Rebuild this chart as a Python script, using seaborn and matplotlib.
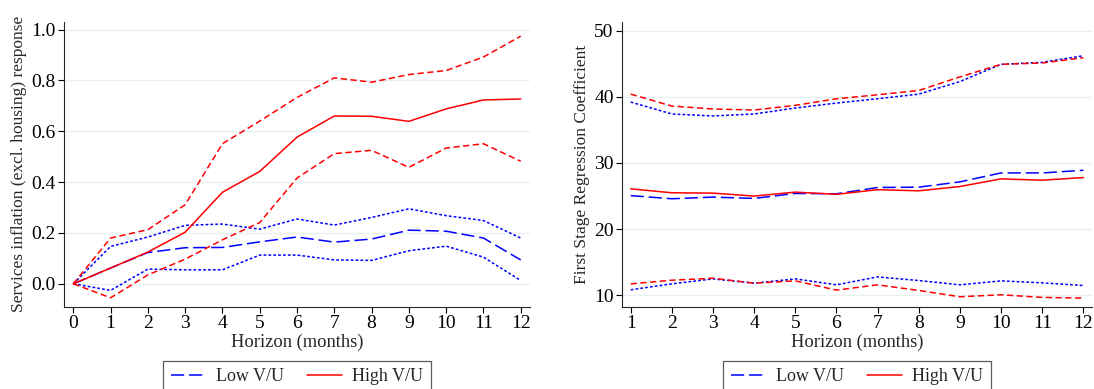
import numpy as np
import pandas as pd
import seaborn as sns
import matplotlib.pyplot as plt
from matplotlib.lines import Line2D

# Left panel: impulse responses, horizon 0-12
h_left = list(range(0, 13))
low_irf = [0, 0.062, 0.123, 0.142, 0.143, 0.165, 0.184, 0.164, 0.176, 0.211, 0.207, 0.180, 0.094]
low_irf_hi = [0, 0.147, 0.184, 0.230, 0.235, 0.215, 0.255, 0.231, 0.261, 0.295, 0.268, 0.249, 0.180]
low_irf_lo = [0, -0.026, 0.058, 0.055, 0.055, 0.113, 0.113, 0.094, 0.092, 0.130, 0.148, 0.105, 0.013]
high_irf = [0, 0.062, 0.125, 0.203, 0.360, 0.442, 0.577, 0.660, 0.659, 0.639, 0.688, 0.723, 0.727]
high_irf_hi = [0, 0.180, 0.213, 0.311, 0.551, 0.640, 0.733, 0.810, 0.793, 0.823, 0.839, 0.892, 0.974]
high_irf_lo = [0, -0.055, 0.035, 0.097, 0.173, 0.241, 0.416, 0.512, 0.525, 0.458, 0.534, 0.551, 0.482]

# Right panel: first stage coefficients, horizon 1-12
h_right = list(range(1, 13))
low_fs = [25.07, 24.6, 24.85, 24.65, 25.4, 25.35, 26.3, 26.35, 27.15, 28.5, 28.5, 28.9]
low_fs_hi = [39.2, 37.4, 37.1, 37.4, 38.3, 39.05, 39.7, 40.4, 42.3, 44.9, 45.2, 46.2]
low_fs_lo = [10.85, 11.75, 12.5, 11.85, 12.5, 11.6, 12.8, 12.25, 11.6, 12.2, 11.9, 11.5]
high_fs = [26.1, 25.5, 25.45, 25.0, 25.6, 25.27, 25.97, 25.8, 26.45, 27.6, 27.4, 27.8]
high_fs_hi = [40.4, 38.6, 38.15, 38.0, 38.7, 39.7, 40.3, 40.95, 43.0, 44.9, 45.1, 45.9]
high_fs_lo = [11.75, 12.3, 12.6, 11.85, 12.2, 10.8, 11.6, 10.75, 9.8, 10.1, 9.7, 9.6]

sns.set_style("ticks")
plt.rcParams['font.family'] = ['Liberation Serif', 'DejaVu Serif']
plt.rcParams['lines.scale_dashes'] = False

BLUE = '#0000ff'
RED = '#ff0000'
longdash = (0, (9.5, 3.5))
dash = (0, (4.5, 2.5))
dot = (0, (2.0, 1.5))

fig = plt.figure(figsize=(10.94, 3.89), dpi=100)
ax1 = fig.add_axes([0.0585, 0.2116, 0.426, 0.732])
ax2 = fig.add_axes([0.5686, 0.2116, 0.4296, 0.732])

def draw(ax, x, lo, lo_hi, lo_lo, hi, hi_hi, hi_lo):
    sns.lineplot(x=x, y=lo_hi, ax=ax, color=BLUE, linestyle=dot, lw=1.1)
    sns.lineplot(x=x, y=lo_lo, ax=ax, color=BLUE, linestyle=dot, lw=1.1)
    sns.lineplot(x=x, y=lo, ax=ax, color=BLUE, linestyle=longdash, lw=1.1)
    sns.lineplot(x=x, y=hi_hi, ax=ax, color=RED, linestyle=dash, lw=1.1)
    sns.lineplot(x=x, y=hi_lo, ax=ax, color=RED, linestyle=dash, lw=1.1)
    sns.lineplot(x=x, y=hi, ax=ax, color=RED, linestyle='-', lw=1.1)
    ax.grid(axis='y', color='#e8f0f2', lw=1.0)
    ax.set_axisbelow(True)
    sns.despine(ax=ax)
    ax.tick_params(labelsize=14, length=4, width=0.8, colors='black', pad=2)
    ax.set_xlabel('Horizon (months)', fontsize=13.3, labelpad=1)
    handles = [Line2D([], [], color=BLUE, linestyle=longdash, lw=1.1),
               Line2D([], [], color=RED, linestyle='-', lw=1.1)]
    leg = ax.legend(handles, ['Low V/U', 'High V/U'], ncol=2, loc='upper center',
                    bbox_to_anchor=(0.5, -0.19), borderaxespad=0, fontsize=13,
                    frameon=True, fancybox=False, edgecolor='#333333',
                    handlelength=1.95, handletextpad=0.55, columnspacing=1.3,
                    borderpad=0.4)
    leg.get_frame().set_linewidth(0.9)

draw(ax1, h_left, low_irf, low_irf_hi, low_irf_lo, high_irf, high_irf_hi, high_irf_lo)
ax1.set_xlim(-0.25, 12.25)
ax1.set_ylim(-0.09, 1.03)
ax1.set_xticks(h_left)
ax1.set_yticks([0.0, 0.2, 0.4, 0.6, 0.8, 1.0])
ax1.set_yticklabels(['0.0', '0.2', '0.4', '0.6', '0.8', '1.0'])
ax1.set_ylabel('Services inflation (excl. housing) response', fontsize=12.5, labelpad=3)

draw(ax2, h_right, low_fs, low_fs_hi, low_fs_lo, high_fs, high_fs_hi, high_fs_lo)
ax2.set_xlim(0.79, 12.21)
ax2.set_ylim(8.3, 51.3)
ax2.set_xticks(h_right)
ax2.set_yticks([10, 20, 30, 40, 50])
ax2.set_ylabel('First Stage Regression Coefficient', fontsize=12.5, labelpad=3)

fig.savefig('out.png', dpi=100)
